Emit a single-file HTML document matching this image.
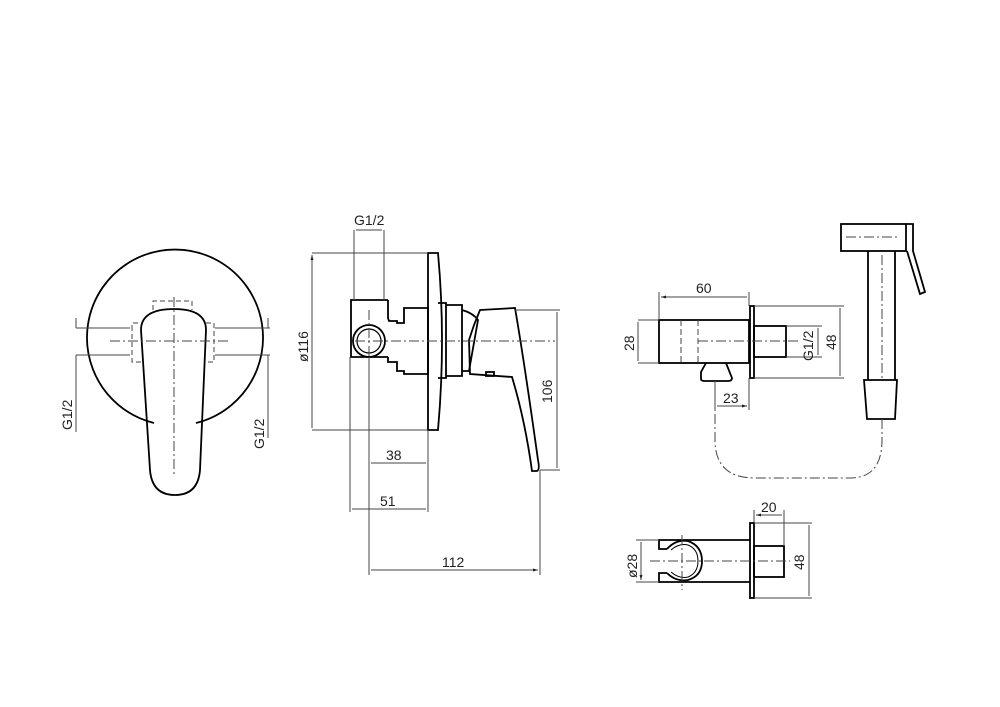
<!DOCTYPE html><html><head><style>body{margin:0;background:#fff}svg{display:block}text{font-family:"Liberation Sans",sans-serif;font-size:14px;fill:#222}</style></head><body>
<svg width="1000" height="707" viewBox="0 0 1000 707" xmlns="http://www.w3.org/2000/svg">
<defs><marker id="a" markerWidth="6" markerHeight="6" refX="5" refY="3" orient="auto-start-reverse"><path d="M0,1.5L5,3L0,4.5z" fill="#222"/></marker></defs>
<g fill="none" stroke="#000" stroke-width="1.8">
<path d="M154,423 A88,88 0 1 1 196,423"/>
<path d="M141,330 Q141,309 174,309 Q206,309 206,330 L200,470 Q198,495 175,495 Q152,495 150,470 Z"/>
</g>
<g fill="none" stroke="#444" stroke-width="1">
<path d="M153,310V301H192V310M132,330V323H141M206,323H214V362H206M141,362H132V330" stroke-dasharray="5,3"/>
<path d="M174,297V476M110,341H228" stroke-dasharray="10,3,2,3"/>
<path d="M76,328H130M215,328H270M76,355H130M215,355H270M76,318V328M76,355V432M268,318V328M268,355V438"/>
</g>
<text transform="translate(72,430) rotate(-90)">G1/2</text>
<text transform="translate(264,449) rotate(-90)">G1/2</text>
<g fill="none" stroke="#000" stroke-width="1.8">
<path d="M428,253H438Q446,340 438,430H428Z"/>
<path d="M388,300H351V357H388"/>
<path d="M388,300V318L389,321H397V323H404V308H428V374H404V371H397V362H388V357"/>
<circle cx="369" cy="341" r="16"/><circle cx="369" cy="341" r="12" stroke-width="1.2"/>
<path d="M438,303H446V378H438M446,305H462V376H446M462,310Q473,313 478,320L469,371H462"/>
<path d="M480,310L515,308Q524,360 538,460Q540,470 537,471H532Q525,420 512,377L470,374L469,340L474,325Z"/>
<rect x="486" y="372" width="8" height="4"/>
</g>
<g fill="none" stroke="#444" stroke-width="1">
<path d="M355,341H555M369,310V372" stroke-dasharray="10,3,2,3"/>
<path d="M312,253H428M312,430H428M354,230V300M384,230V300M350,357V512M369,357V575M428,430V512M540,470V575M515,310H560M540,470H560"/>
<path d="M312,255V428M356,230H382M557,312V468M371,463H426M352,509H426M371,570H538" marker-start="url(#a)" marker-end="url(#a)"/>
</g>
<text x="354" y="225">G1/2</text>
<text transform="translate(308,362) rotate(-90)">ø116</text>
<text transform="translate(552,403) rotate(-90)">106</text>
<text x="386" y="460">38</text><text x="380" y="506">51</text><text x="442" y="567">112</text>
<g fill="none" stroke="#000" stroke-width="1.8">
<rect x="659" y="320" width="90" height="43"/>
<rect x="750" y="306" width="4" height="72"/>
<rect x="754" y="326" width="32" height="31"/>
<path d="M706,363L701,372V379Q701,381 705,381H728Q732,381 732,378L726,363"/>
<rect x="841" y="224" width="65" height="27"/>
<path d="M906,224H913V251L925,292L920,294L907,251"/>
<path d="M868,251V380M895,251V380M864,380H897L895,419H867Z"/>
</g>
<g fill="none" stroke="#444" stroke-width="1">
<path d="M681,320V363M698,320V363" stroke-dasharray="6,3"/>
<path d="M698,341H800M846,237H900M882,255V380M882,419V440Q882,478 850,478H755Q715,478 715,440V410" stroke-dasharray="10,3,2,3"/>
<path d="M659,292V320M749,292V306M638,320H659M638,363H659M786,326H822M786,357H822M754,306H844M754,378H844M715,381V410M749,378V410"/>
<path d="M661,297H747M638,322V361M818,328V355M840,308V376M717,406H747" marker-start="url(#a)" marker-end="url(#a)"/>
</g>
<text x="696" y="293">60</text>
<text transform="translate(634,351) rotate(-90)">28</text>
<text transform="translate(813,361) rotate(-90)">G1/2</text>
<text transform="translate(836,350) rotate(-90)">48</text>
<text x="723" y="403">23</text>
<g fill="none" stroke="#000" stroke-width="1.8">
<path d="M750,540H659V549H667M750,582H659V573H667"/>
<path d="M667,549Q676,539 688,541Q702,546 702,561Q702,576 688,580Q676,582 667,573"/>
<path d="M671,550Q679,543 688,545Q698,549 698,561Q698,573 688,577Q679,579 671,572" stroke-width="1"/>
<rect x="750" y="523" width="4" height="75"/>
<rect x="754" y="546" width="30" height="31"/>
</g>
<g fill="none" stroke="#444" stroke-width="1">
<path d="M650,561H790M682,535V590" stroke-dasharray="10,3,2,3"/>
<path d="M754,510V523M784,510V546M754,523H812M754,598H812M636,540H659M636,582H659"/>
<path d="M756,515H782M809,525V596M641,542V580" marker-start="url(#a)" marker-end="url(#a)"/>
</g>
<text x="761" y="512">20</text>
<text transform="translate(804,570) rotate(-90)">48</text>
<text transform="translate(637,578) rotate(-90)">ø28</text>
</svg></body></html>
